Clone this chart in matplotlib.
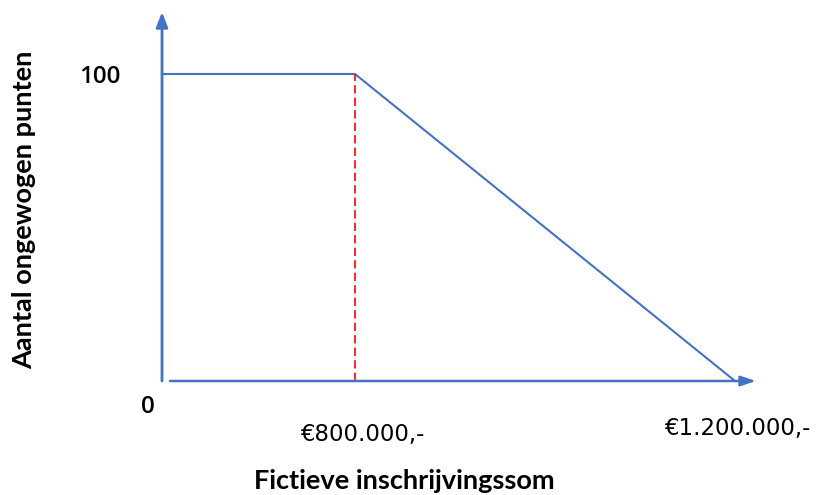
import numpy as np
import matplotlib
matplotlib.use("Agg")
import matplotlib.pyplot as plt

# Data
sums = [0, 800000, 1200000]          # Fictieve inschrijvingssom (euro)
points = [100, 100, 0]               # Aantal ongewogen punten
x_tick_values = [800000, 1200000]
x_tick_labels = ["€800.000,-", "€1.200.000,-"]
y_tick_values = [0, 100]
y_tick_labels = ["0", "100"]
threshold = 800000

BLUE = "#4472C4"

# schematic (non-proportional) x scale, as in the reference drawing
_xe = [0, 800000, 1200000, 2400000]
_xp = [0, 193, 573, 1713]
def fwd(x):
    return np.interp(x, _xe, _xp)
def inv(p):
    return np.interp(p, _xp, _xe)

W, H = 821, 495
fig = plt.figure(figsize=(W/100, H/100), dpi=100)
left, right, bottom, top = 162, 756, 381, 12
ax = fig.add_axes([left/W, 1-bottom/H, (right-left)/W, (bottom-top)/H])
ax.set_xscale('function', functions=(fwd, inv))
ax.set_xlim(0, inv(right-left))
ymax = (bottom-top)/(bottom-74)*100
ax.set_ylim(0, ymax)
ax.axis('off')

# axes arrows
ax.annotate('', xy=(0, ymax), xytext=(0, 0), xycoords='data',
            arrowprops=dict(arrowstyle='-|>,head_length=0.9,head_width=0.35',
                            color=BLUE, lw=2, shrinkA=0, shrinkB=0))
ax.annotate('', xy=(inv(right-left), 0), xytext=(inv(8), 0),
            arrowprops=dict(arrowstyle='-|>,head_length=0.9,head_width=0.3',
                            color=BLUE, lw=1.8, shrinkA=0, shrinkB=0))

# data line
ax.plot(sums, points, color=BLUE, lw=1.5, solid_capstyle='butt', clip_on=False)
# threshold dashed line
ax.plot([threshold, threshold], [0, 100], color='red', lw=1.2,
        dashes=(5, 2.5), clip_on=False)

# tick labels
ax.annotate(y_tick_labels[1], xy=(0, y_tick_values[1]), xytext=(-62, -3),
            textcoords='offset pixels', ha='center', va='center',
            fontsize=17.5, family='Open Sans', fontweight='semibold')
ax.annotate(y_tick_labels[0], xy=(0, y_tick_values[0]), xytext=(-14, -26),
            textcoords='offset pixels', ha='center', va='center',
            fontsize=17.5, family='Open Sans', fontweight='semibold')
ax.annotate(x_tick_labels[0], xy=(x_tick_values[0], 0), xytext=(7, -53),
            textcoords='offset pixels', ha='center', va='center',
            fontsize=16.5, family='DejaVu Sans')
ax.annotate(x_tick_labels[1], xy=(x_tick_values[1], 0), xytext=(2, -48),
            textcoords='offset pixels', ha='center', va='center',
            fontsize=16.5, family='DejaVu Sans')

fig.text(404/W, 1-481/H, "Fictieve inschrijvingssom", ha='center', va='center',
         fontsize=19.5, family='Lato', fontweight='bold')
fig.text(24/W, 1-210/H, "Aantal ongewogen punten", ha='center', va='center',
         rotation=90, fontsize=19.5, family='Lato', fontweight='bold')

fig.savefig("out.png", dpi=100)
